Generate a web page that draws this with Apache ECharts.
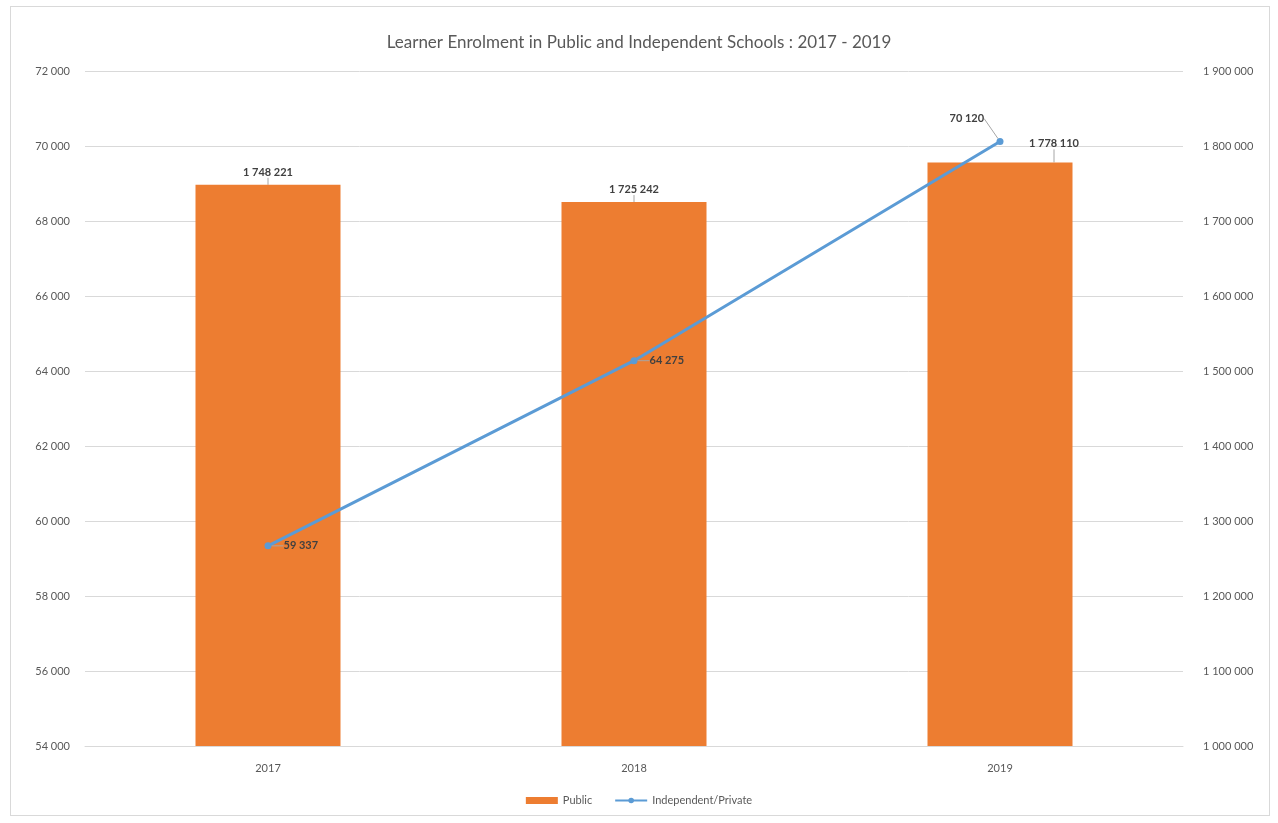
<!DOCTYPE html>
<html>
<head>
<meta charset="utf-8">
<script src="https://cdn.jsdelivr.net/npm/echarts@6/dist/echarts.min.js"></script>
<style>
  html, body { margin: 0; padding: 0; background: #ffffff; }
  #frame { position: absolute; left: 10px; top: 6px; width: 1260px; height: 810px; border: 1px solid #d9d9d9; box-sizing: border-box; }
  #chart { position: absolute; left: 0; top: 0; width: 1278px; height: 823px; }
</style>
</head>
<body>
<div id="frame"></div>
<div id="chart"></div>
<script>
// Enrolment figures by year
const years = ['2017', '2018', '2019'];
const publicLearners = [1748221, 1725242, 1778110];
const independentLearners = [59337, 64275, 70120];

// Axis ranges
const leftAxisRange = { min: 54000, max: 72000, step: 2000 };
const rightAxisRange = { min: 1000000, max: 1900000, step: 100000 };

const FONT = 'Lato, "Open Sans", sans-serif';

function spaced(n) {
  return String(n).replace(/\B(?=(\d{3})+(?!\d))/g, ' ');
}

const chart = echarts.init(document.getElementById('chart'));

chart.setOption({
  animation: false,
  textStyle: { fontFamily: FONT },
  title: {
    text: 'Learner Enrolment in Public and Independent Schools : 2017 - 2019',
    left: 'center',
    top: 29,
    textStyle: { fontFamily: FONT, fontSize: 17, fontWeight: 'normal', color: '#595959' }
  },
  legend: {
    bottom: 12,
    left: 'center',
    itemGap: 22,
    itemWidth: 32,
    itemHeight: 7,
    textStyle: { fontFamily: FONT, fontSize: 11, color: '#595959' },
    data: [
      { name: 'Public', icon: 'rect' },
      { name: 'Independent/Private' }
    ]
  },
  grid: { left: 85, right: 95, top: 71, bottom: 77 },
  xAxis: {
    type: 'category',
    data: years,
    axisTick: { show: false },
    axisLine: { lineStyle: { color: '#d9d9d9' } },
    axisLabel: { color: '#595959', fontSize: 11, margin: 17 }
  },
  yAxis: [
    {
      type: 'value',
      position: 'left',
      min: leftAxisRange.min,
      max: leftAxisRange.max,
      interval: leftAxisRange.step,
      axisLine: { show: false },
      axisTick: { show: false },
      axisLabel: { color: '#595959', fontSize: 11, margin: 15, formatter: spaced },
      splitLine: { lineStyle: { color: '#d9d9d9' } }
    },
    {
      type: 'value',
      position: 'right',
      min: rightAxisRange.min,
      max: rightAxisRange.max,
      interval: rightAxisRange.step,
      axisLine: { show: false },
      axisTick: { show: false },
      axisLabel: { color: '#595959', fontSize: 11, margin: 20, formatter: spaced },
      splitLine: { show: false }
    }
  ],
  series: [
    {
      name: 'Public',
      type: 'bar',
      yAxisIndex: 1,
      barWidth: 145,
      data: publicLearners,
      itemStyle: { color: '#ED7D31' },
      label: {
        show: true,
        position: 'top',
        distance: 7,
        color: '#404040',
        fontSize: 11,
        fontWeight: 'bold',
        formatter: p => spaced(p.value)
      },
      labelLine: { show: true, lineStyle: { color: '#a6a6a6', width: 1 } },
      labelLayout: p => (p.dataIndex === 2 ? { dx: 54, dy: -6 } : {})
    },
    {
      name: 'Independent/Private',
      type: 'line',
      yAxisIndex: 0,
      data: independentLearners,
      symbol: 'circle',
      symbolSize: 7,
      lineStyle: { color: '#5B9BD5', width: 3 },
      itemStyle: { color: '#5B9BD5' },
      z: 5,
      label: {
        show: true,
        position: 'right',
        distance: 12,
        color: '#404040',
        fontSize: 11,
        fontWeight: 'bold',
        formatter: p => spaced(p.value)
      },
      labelLine: { show: true, lineStyle: { color: '#a6a6a6', width: 1 } },
      labelLayout: p => (p.dataIndex === 2 ? { dx: -66, dy: -23 } : {})
    }
  ]
});
</script>
</body>
</html>
